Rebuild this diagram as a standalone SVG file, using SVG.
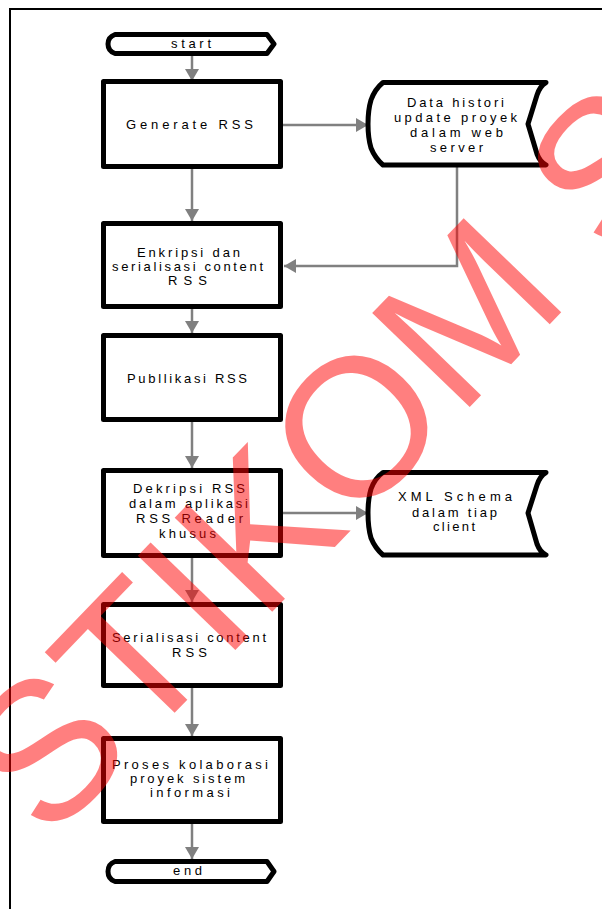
<svg xmlns="http://www.w3.org/2000/svg" width="602" height="909" viewBox="0 0 602 909">
<style>
.frame{fill:none;stroke:#000;stroke-width:2}
.box{fill:#fff;stroke:#000;stroke-width:5;stroke-linejoin:round}
.t{font-family:"Liberation Sans",Arial,sans-serif;font-size:13px;fill:#000}
.c{fill:none;stroke:#808080;stroke-width:2.5}
.wm{font-family:"Liberation Sans",Arial,sans-serif;font-size:197px;fill:#ff0000;fill-opacity:0.5}
</style>
<defs>
<marker id="ah" viewBox="0 0 12 14" refX="12" refY="7" markerWidth="12" markerHeight="14" markerUnits="userSpaceOnUse" orient="auto">
<path d="M0,0 L12,7 L0,14 Z" fill="#808080"/>
</marker>
</defs>
<rect width="602" height="909" fill="#fff"/>
<path class="frame" d="M10,909 L10,9 L602,9"/>

<g id="connectors">
<line class="c" x1="192" y1="55" x2="192" y2="81" marker-end="url(#ah)"/>
<line class="c" x1="283" y1="125" x2="368" y2="125" marker-end="url(#ah)"/>
<line class="c" x1="192" y1="169" x2="192" y2="221" marker-end="url(#ah)"/>
<polyline class="c" points="457,167 457,266 284,266" marker-end="url(#ah)"/>
<line class="c" x1="192" y1="309" x2="192" y2="333" marker-end="url(#ah)"/>
<line class="c" x1="192" y1="421" x2="192" y2="468" marker-end="url(#ah)"/>
<line class="c" x1="283" y1="513" x2="368" y2="513" marker-end="url(#ah)"/>
<line class="c" x1="192" y1="558" x2="192" y2="602" marker-end="url(#ah)"/>
<line class="c" x1="192" y1="688" x2="192" y2="736" marker-end="url(#ah)"/>
<line class="c" x1="192" y1="824" x2="192" y2="859" marker-end="url(#ah)"/>
</g>

<g id="start">
<path class="box" d="M115,34.5 L267,34.5 L274,44 L267,53.5 L115,53.5 Q108,51 108,44 Q108,37 115,34.5 Z"/>
<text class="t" x="171" y="48" textLength="40">start</text>
</g>

<g id="generate">
<rect class="box" x="103.5" y="81.5" width="177" height="85"/>
<text class="t" x="126" y="129" textLength="127">Generate RSS</text>
</g>

<g id="data-histori">
<path class="box" d="M383,82.5 L546,82.5 Q540,86 537,95 L528,124 L537,154 Q540,162 546,165 L383,165 Q375,158 371,148 Q368,138 368,124 Q368,110 371,100 Q375,89 383,82.5 Z"/>
<text class="t" x="407" y="107" textLength="97">Data histori</text>
<text class="t" x="394" y="122" textLength="123">update proyek</text>
<text class="t" x="410" y="137" textLength="93">dalam web</text>
<text class="t" x="430" y="152" textLength="53">server</text>
</g>

<g id="enkripsi">
<rect class="box" x="103.5" y="223.5" width="177" height="83"/>
<text class="t" x="137" y="257" textLength="103">Enkripsi dan</text>
<text class="t" x="112" y="271" textLength="151">serialisasi content</text>
<text class="t" x="168" y="285" textLength="39">RSS</text>
</g>

<g id="publikasi">
<rect class="box" x="103.5" y="335.5" width="177" height="84"/>
<text class="t" x="127" y="383" textLength="120">Publlikasi RSS</text>
</g>

<g id="dekripsi">
<rect class="box" x="103.5" y="470.5" width="177" height="85"/>
<text class="t" x="133" y="493" textLength="112">Dekripsi RSS</text>
<text class="t" x="129" y="508" textLength="119">dalam aplikasi</text>
<text class="t" x="136" y="523" textLength="107">RSS Reader</text>
<text class="t" x="159" y="538" textLength="57">khusus</text>
</g>

<g id="xml-schema">
<path class="box" d="M383,472.5 L546,472.5 Q540,476 537,485 L528,513 L537,544 Q540,552 546,555 L383,555 Q375,548 371,538 Q368,528 368,513 Q368,499 371,489 Q375,478 383,472.5 Z"/>
<text class="t" x="398" y="501" textLength="114">XML Schema</text>
<text class="t" x="412" y="517" textLength="85">dalam tiap</text>
<text class="t" x="433" y="531" textLength="42">client</text>
</g>

<g id="serialisasi">
<rect class="box" x="103.5" y="604.5" width="177" height="81"/>
<text class="t" x="112" y="642" textLength="154">Serialisasi content</text>
<text class="t" x="172" y="657" textLength="35">RSS</text>
</g>

<g id="proses">
<rect class="box" x="103.5" y="738.5" width="177" height="83"/>
<text class="t" x="112" y="769" textLength="156">Proses kolaborasi</text>
<text class="t" x="130" y="783" textLength="115">proyek sistem</text>
<text class="t" x="150" y="797" textLength="80">informasi</text>
</g>

<g id="end">
<path class="box" d="M115,861.5 L267,861.5 L274,871.5 L267,881.5 L115,881.5 Q108,879 108,871.5 Q108,864 115,861.5 Z"/>
<text class="t" x="173" y="875" textLength="29">end</text>
</g>

<text class="wm" transform="translate(48,844) rotate(-46)">STIKOM S</text>
</svg>
